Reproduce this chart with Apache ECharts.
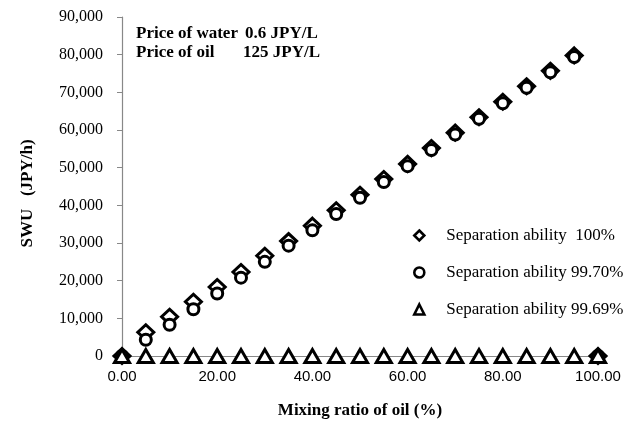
<!DOCTYPE html>
<html>
<head>
<meta charset="utf-8">
<script src="https://cdn.jsdelivr.net/npm/echarts@6/dist/echarts.min.js"></script>
<style>html,body{margin:0;padding:0;background:#fff}#c{width:632px;height:424px}</style>
</head>
<body>
<div id="c"></div>
<script>
const mixingRatio = [0,5,10,15,20,25,30,35,40,45,50,55,60,65,70,75,80,85,90,95,100];
const sep100 = [0,6300,10400,14400,18300,22300,26600,30500,34600,38700,42800,47000,51000,55200,59300,63400,67500,71600,75700,79800,0];
const sep9970 = [0,4300,8300,12400,16600,20800,25000,29300,33400,37700,42000,46200,50400,54700,58800,63000,67100,71200,75300,79400,0];
const sep9969 = [0,0,0,0,0,0,0,0,0,0,0,0,0,0,0,0,0,0,0,0,0];
const seriesNames = ['Separation ability  100%','Separation ability 99.70%','Separation ability 99.69%'];
const annotation = [['Price of water','0.6 JPY/L'],['Price of oil','125 JPY/L']];

const serif = '"Liberation Serif","Times New Roman",serif';
const pair = (xs, ys) => xs.map((x, i) => [x, ys[i]]);
const markerStyle = {color:'#fff', borderColor:'#000', borderWidth:3, opacity:1};

const chart = echarts.init(document.getElementById('c'), null, {renderer:'canvas'});
chart.setOption({
  animation:false,
  backgroundColor:'#fff',
  grid:{left:122, right:34, top:17, bottom:64, containLabel:false},
  xAxis:{
    type:'value', min:0, max:100, interval:20,
    name:'Mixing ratio of oil (%)', nameLocation:'middle', nameGap:46,
    nameTextStyle:{fontFamily:serif, fontWeight:'bold', fontSize:17, color:'#000'},
    axisLine:{lineStyle:{color:'#888', width:1.2}},
    axisTick:{show:false},
    splitLine:{show:false},
    axisLabel:{margin:13, fontFamily:'"Liberation Sans",Arial,sans-serif', fontSize:15, color:'#000',
      formatter:v => v.toFixed(2)}
  },
  yAxis:{
    type:'value', min:0, max:90000, interval:10000,
    name:'SWU   (JPY/h)', nameLocation:'middle', nameGap:86, nameRotate:90,
    nameTextStyle:{fontFamily:serif, fontWeight:'bold', fontSize:17, color:'#000', padding:[0,14,0,0]},
    axisLine:{show:true, lineStyle:{color:'#888', width:1.2}},
    axisTick:{show:true, inside:false, length:5, lineStyle:{color:'#888'}},
    splitLine:{show:false},
    axisLabel:{margin:19, fontFamily:serif, fontSize:16, color:'#000',
      formatter:v => v.toLocaleString('en-US')}
  },
  legend:{
    orient:'vertical', left:408, top:222, itemGap:20,
    itemWidth:10, itemHeight:10,
    itemStyle:{borderWidth:2.6, borderColor:'#000', color:'#fff'},
    textStyle:{fontFamily:serif, fontSize:17, color:'#000', padding:[0,0,0,17]},
    data:seriesNames
  },
  graphic:[
    {type:'text', left:136, top:25, style:{text:annotation[0][0], font:'bold 17px '+serif, fill:'#000'}},
    {type:'text', left:245, top:25, style:{text:annotation[0][1], font:'bold 17px '+serif, fill:'#000'}},
    {type:'text', left:136, top:44, style:{text:annotation[1][0], font:'bold 17px '+serif, fill:'#000'}},
    {type:'text', left:243, top:44, style:{text:annotation[1][1], font:'bold 17px '+serif, fill:'#000'}}
  ],
  series:[
    {name:seriesNames[0], type:'scatter', symbol:'diamond', symbolSize:[16,15], itemStyle:markerStyle, data:pair(mixingRatio, sep100), z:3},
    {name:seriesNames[1], type:'scatter', symbol:'circle', symbolSize:11, itemStyle:markerStyle, data:pair(mixingRatio, sep9970), z:4},
    {name:seriesNames[2], type:'scatter', symbol:'triangle', symbolSize:[15,13], itemStyle:markerStyle, data:pair(mixingRatio, sep9969), z:5}
  ]
});
</script>
</body>
</html>
